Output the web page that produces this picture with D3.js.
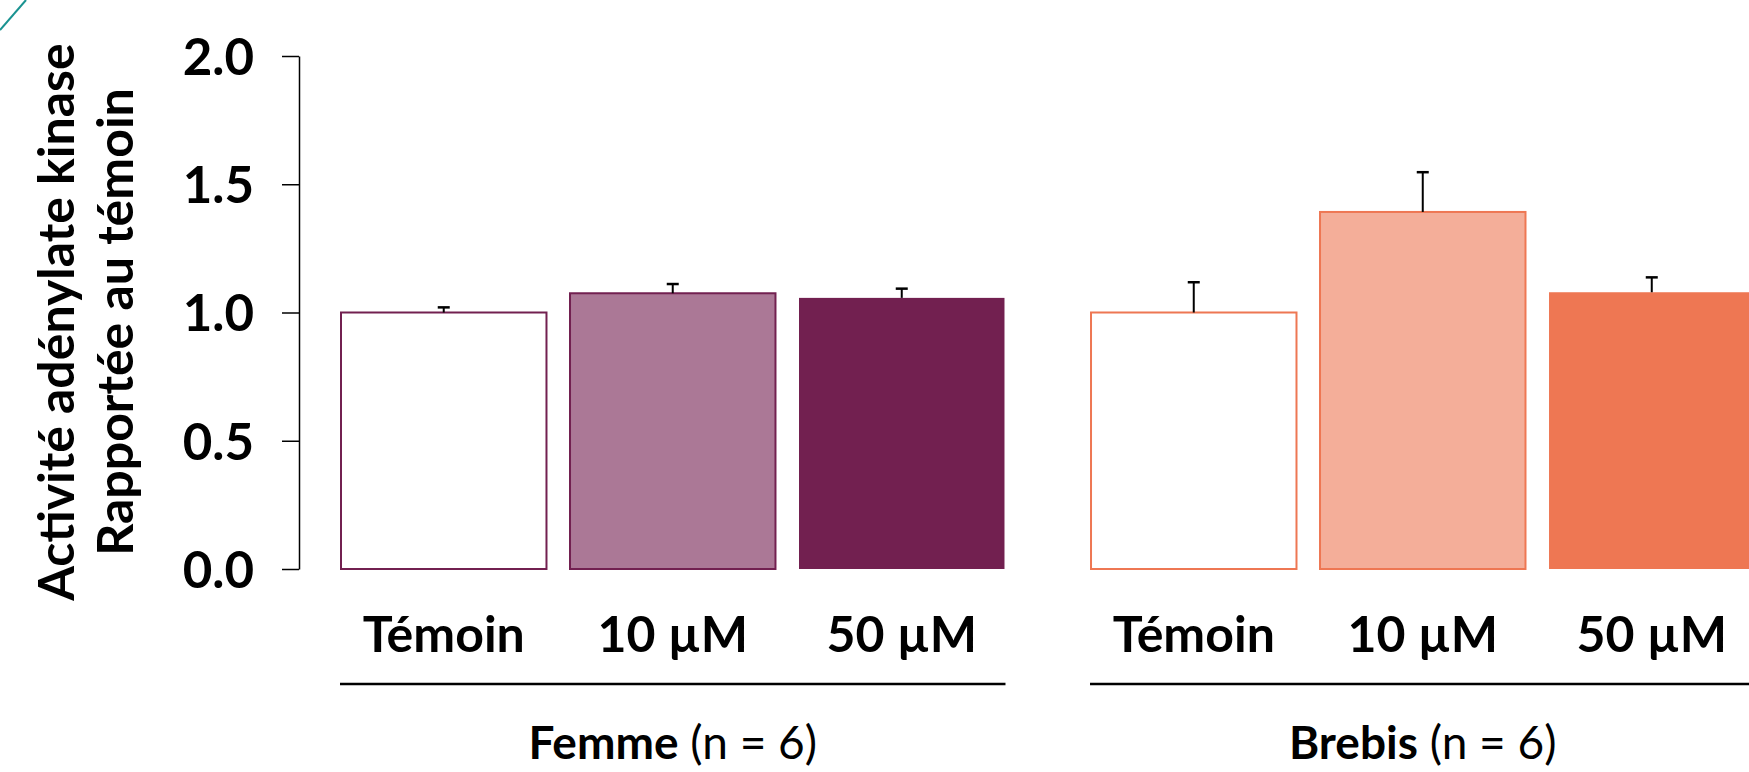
<!DOCTYPE html>
<html>
<head>
<meta charset="utf-8">
<script src="https://cdn.jsdelivr.net/npm/d3@7"></script>
<style>
  body { margin: 0; background: #fff; }
  text { font-family: Lato, "Open Sans", sans-serif; }
</style>
</head>
<body>
<div id="chart"></div>
<script>
var w = 1749;
var h = 772;

// data
var groups = ["Femme", "Brebis"];
var groupNotes = ["(n = 6)", "(n = 6)"];
var conditions = ["Témoin", "10 µM", "50 µM"];
var femmeValues = [1.0, 1.075, 1.057];
var femmeErrors = [0.02, 0.036, 0.036];
var brebisValues = [1.0, 1.392, 1.079];
var brebisErrors = [0.118, 0.155, 0.058];
var yTicks = [0, 0.5, 1.0, 1.5, 2.0];

var fills = {
    Femme: ["#ffffff", "#ab7896", "#722050"],
    Brebis: ["#ffffff", "#f4ae99", "#ee7753"]
};
var strokes = { Femme: "#722050", Brebis: "#ee7753" };

var rows = [];
groups.forEach(function(g, gi) {
    var vals = gi == 0 ? femmeValues : brebisValues;
    var errs = gi == 0 ? femmeErrors : brebisErrors;
    conditions.forEach(function(c, ci) {
        rows.push({ group: g, cond: c, ci: ci, value: vals[ci], err: errs[ci] });
    });
});

var svg = d3.select("#chart").append("svg")
    .attr("width", w)
    .attr("height", h);

// small teal corner mark
svg.append("line")
    .attr("x1", 0).attr("y1", 30)
    .attr("x2", 26).attr("y2", 0)
    .attr("stroke", "#1a9391")
    .attr("stroke-width", 2);

var x0 = d3.scaleBand()
    .domain(groups)
    .range([340, 1755.5])
    .paddingInner(0.1127);

var x1 = d3.scaleBand()
    .domain(conditions)
    .range([0, x0.bandwidth()])
    .paddingInner(0.094);

var y = d3.scaleLinear()
    .domain([0, 2])
    .range([569, 56]);

// y axis
var yAxis = svg.append("g")
    .attr("transform", "translate(299,0)")
    .call(d3.axisLeft(y).tickValues(yTicks).tickFormat(d3.format(".1f")).tickSize(17).tickSizeOuter(0));
yAxis.select(".domain").attr("stroke", "#000").attr("stroke-width", 1.5);
yAxis.selectAll(".tick line").attr("stroke", "#000").attr("stroke-width", 1.5);
yAxis.selectAll(".tick text")
    .attr("x", -45)
    .attr("dy", "0.36em")
    .attr("font-size", 51)
    .attr("font-weight", "bold")
    .attr("fill", "#000")
    .style("font-family", "Lato, sans-serif");

// y title
var title = svg.append("text")
    .attr("transform", "rotate(-90)")
    .attr("text-anchor", "middle")
    .attr("font-size", 50)
    .attr("font-weight", "bold");
title.append("tspan").attr("x", -322).attr("y", 74).text("Activité adénylate kinase");
title.append("tspan").attr("x", -322).attr("y", 133).text("Rapportée au témoin");

// bars
var bars = svg.selectAll(".bar")
    .data(rows)
    .enter()
    .append("g")
    .attr("class", "bar")
    .attr("transform", function(d) { return "translate(" + x0(d.group) + ",0)"; });

bars.append("rect")
    .attr("x", function(d) { return x1(d.cond) + 1; })
    .attr("width", x1.bandwidth() - 2)
    .attr("y", function(d) { return y(d.value); })
    .attr("height", function(d) { return y(0) - y(d.value); })
    .attr("fill", function(d) { return fills[d.group][d.ci]; })
    .attr("stroke", function(d) { return d.ci == 2 ? "none" : strokes[d.group]; })
    .attr("stroke-width", 2);

// error bars (upper only)
bars.append("line")
    .attr("x1", function(d) { return x1(d.cond) + x1.bandwidth() / 2; })
    .attr("x2", function(d) { return x1(d.cond) + x1.bandwidth() / 2; })
    .attr("y1", function(d) { return y(d.value); })
    .attr("y2", function(d) { return y(d.value + d.err); })
    .attr("stroke", "#000")
    .attr("stroke-width", 2);

bars.append("line")
    .attr("x1", function(d) { return x1(d.cond) + x1.bandwidth() / 2 - 6; })
    .attr("x2", function(d) { return x1(d.cond) + x1.bandwidth() / 2 + 6; })
    .attr("y1", function(d) { return y(d.value + d.err); })
    .attr("y2", function(d) { return y(d.value + d.err); })
    .attr("stroke", "#000")
    .attr("stroke-width", 2.5);

// condition labels
bars.append("text")
    .attr("x", function(d) { return x1(d.cond) + x1.bandwidth() / 2; })
    .attr("y", 652)
    .attr("text-anchor", "middle")
    .attr("font-size", 50)
    .attr("font-weight", "bold")
    .text(function(d) { return d.cond; });

// group lines and labels
var grp = svg.selectAll(".grp")
    .data(groups)
    .enter()
    .append("g")
    .attr("class", "grp")
    .attr("transform", function(d) { return "translate(" + x0(d) + ",0)"; });

grp.append("line")
    .attr("x1", 0)
    .attr("x2", x0.bandwidth())
    .attr("y1", 684)
    .attr("y2", 684)
    .attr("stroke", "#000")
    .attr("stroke-width", 2.5);

var gl = grp.append("text")
    .attr("x", x0.bandwidth() / 2)
    .attr("y", 759)
    .attr("text-anchor", "middle")
    .attr("font-size", 46);
gl.append("tspan").attr("font-weight", "bold").text(function(d) { return d; });
gl.append("tspan").attr("font-weight", "normal").text(function(d, i) { return " " + groupNotes[i]; });
</script>
</body>
</html>
